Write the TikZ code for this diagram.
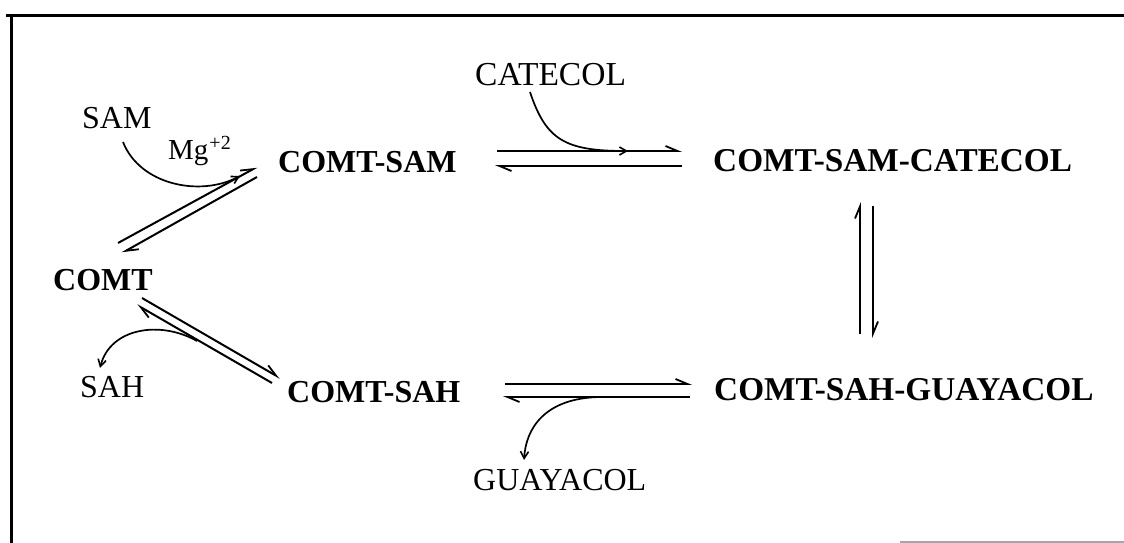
\documentclass[tikz,border=0pt]{standalone}
\usepackage{fontspec}
\setmainfont{Liberation Serif}
\usetikzlibrary{arrows.meta}
\begin{document}
\begin{tikzpicture}[x=1pt,y=-1pt,
  lbl/.style={inner sep=0pt, anchor=base west, font=\fontsize{32}{38}\selectfont},
  cpx/.style={lbl, font=\fontsize{32}{38}\selectfont\bfseries},
  cpxwide/.style={lbl, font=\fontsize{33.3}{40}\selectfont\bfseries},
  eqarrow/.style={line width=2pt, -{Straight Barb[harpoon,length=12pt,width=10pt,line width=1.8pt]}},
  sidearrow/.style={line width=1.7pt, -{Straight Barb[length=7pt,width=8pt,line width=1.6pt]}},
  framerule/.style={line width=3pt}]
\useasboundingbox (0,0) rectangle (1124,543);
\fill[white] (0,0) rectangle (1124,543);
% frame
\coordinate (fa) at (6,16);
\coordinate (fb) at (1124,16);
\coordinate (fc) at (11,16);
\coordinate (fd) at (11,543);
\draw[framerule] (fa) -- (fb);
\draw[framerule] (fc) -- (fd);
\coordinate (fe) at (900,542);
\coordinate (ff) at (1124,542);
\draw[line width=2pt, black!35] (fe) -- (ff);
% texts
\node[lbl] (sam) at (82,128) {SAM};
\node[lbl, font=\fontsize{29}{34}\selectfont] (mg) at (168,159) {Mg\kern1pt\raisebox{10pt}{\fontsize{20}{24}\selectfont +2}};
\node[cpx] (cs) at (278,172) {COMT-SAM};
\node[lbl, font=\fontsize{33.5}{40}\selectfont] (cat) at (475,85) {CATECOL};
\node[cpxwide] (csc) at (713,171) {COMT-SAM-CATECOL};
\node[cpx] (comt) at (53,290) {COMT};
\node[lbl] (sah) at (80,397) {SAH};
\node[cpx] (csh) at (287,402) {COMT-SAH};
\node[cpxwide] (csg) at (714,400) {COMT-SAH-GUAYACOL};
\node[lbl] (gua) at (473,490) {GUAYACOL};
% equilibrium harpoon end points
\coordinate (t1s) at (497,151); \coordinate (t1e) at (682,151);
\coordinate (t2s) at (682,166); \coordinate (t2e) at (495,166);
\coordinate (v1s) at (860,334); \coordinate (v1e) at (860,202);
\coordinate (v2s) at (873,206); \coordinate (v2e) at (873,338);
\coordinate (b1s) at (505,384); \coordinate (b1e) at (692,384);
\coordinate (b2s) at (690,397); \coordinate (b2e) at (503,397);
\coordinate (d1s) at (118,243); \coordinate (d1e) at (257,167);
\coordinate (d2s) at (257,177); \coordinate (d2e) at (122,253);
\coordinate (e1s) at (142,298); \coordinate (e1e) at (280,378);
\coordinate (e2s) at (272,383); \coordinate (e2e) at (137,305);
\draw[eqarrow] (t1s) -- (t1e);
\draw[eqarrow] (t2s) -- (t2e);
\draw[eqarrow] (v1s) -- (v1e);
\draw[eqarrow] (v2s) -- (v2e);
\draw[eqarrow] (b1s) -- (b1e);
\draw[eqarrow] (b2s) -- (b2e);
\draw[eqarrow] (d1s) -- (d1e);
\draw[eqarrow] (d2s) -- (d2e);
\draw[eqarrow] (e1s) -- (e1e);
\draw[eqarrow] (e2s) -- (e2e);
% side reactions
\coordinate (samfoot) at (123,142);
\coordinate (samtip) at (240,176);
\draw[sidearrow] (samfoot) .. controls (140,185) and (200,197) .. (samtip);
\coordinate (catfoot) at (530,92);
\coordinate (cattip) at (628,151);
\draw[sidearrow] (catfoot) .. controls (546,140) and (565,151) .. (cattip);
\coordinate (sahfoot) at (197,341);
\coordinate (sahtip) at (100,368);
\draw[sidearrow] (sahfoot) .. controls (160,320) and (110,328) .. (sahtip);
\coordinate (guafoot) at (600,397);
\coordinate (guatip) at (524,460);
\draw[sidearrow] (guafoot) .. controls (545,398) and (526,428) .. (guatip);
\end{tikzpicture}
\end{document}
